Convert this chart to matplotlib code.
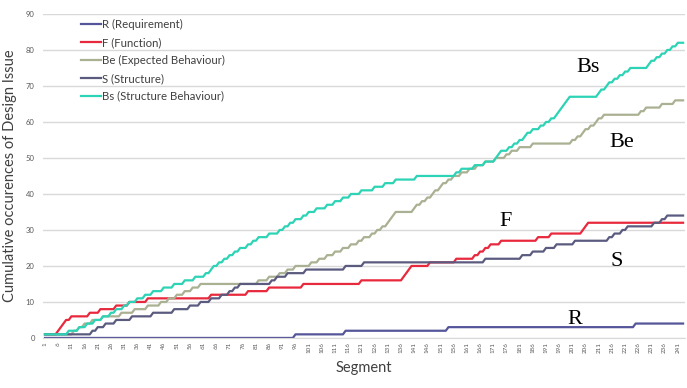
import numpy as np
import matplotlib.pyplot as plt

plt.rcParams['font.family'] = ['Lato', 'DejaVu Sans']

n_segments = 243

# Segment in which each design issue occurrence was coded (one entry per occurrence)
r_hits = [96, 115, 154, 225]
f_hits = [1, 6, 7, 8, 9, 11, 18, 22, 28, 33, 40, 64, 78, 86, 99, 121, 137, 138,
          139, 140, 147, 157, 164, 166, 168, 170, 174, 188, 193, 205, 206, 207]
be_hits = [1, 12, 14, 16, 19, 23, 30, 35, 40, 45, 48, 51, 54, 57, 60, 82, 86, 90,
           93, 96, 102, 105, 108, 111, 114, 117, 120, 122, 125, 127, 129, 131, 132,
           133, 134, 141, 142, 144, 146, 148, 149, 151, 152, 154, 156, 159, 162,
           165, 168, 172, 176, 178, 181, 186, 201, 203, 205, 206, 208, 210, 211,
           213, 227, 229, 235, 240]
s_hits = [1, 19, 21, 24, 28, 34, 42, 50, 56, 60, 64, 68, 71, 73, 75, 87, 89, 93,
          100, 115, 122, 168, 182, 186, 191, 195, 202, 215, 217, 220, 222, 232,
          235, 237]
bs_hits = [1, 10, 14, 17, 20, 23, 26, 28, 31, 33, 36, 39, 42, 46, 50, 54, 58, 62,
           64, 65, 67, 69, 71, 73, 75, 78, 80, 82, 86, 90, 92, 94, 96, 99, 101,
           104, 108, 111, 114, 117, 121, 126, 130, 134, 142, 157, 159, 164, 168,
           172, 173, 174, 177, 179, 181, 183, 184, 186, 189, 191, 193, 195, 196,
           197, 198, 199, 200, 211, 212, 214, 215, 217, 219, 221, 223, 230, 231,
           233, 235, 237, 239, 241]

series_names = ['R (Requirement)', 'F (Function)', 'Be (Expected Behaviour)',
                'S (Structure)', 'Bs (Structure Behaviour)']
series_hits = [r_hits, f_hits, be_hits, s_hits, bs_hits]
colors = ['#55559a', '#e8283c', '#a9b192', '#5b5b80', '#2cd3b5']

segments = np.arange(1, n_segments + 1)


def cumulative(hits):
    counts = np.bincount(hits, minlength=n_segments + 1)[1:]
    return np.cumsum(counts)


fig = plt.figure(figsize=(6.87, 3.88), dpi=100)
ax = fig.add_axes([0.0626, 0.129, 0.934, 0.835])

for name, hits, color in zip(series_names, series_hits, colors):
    ax.plot(segments, cumulative(hits), color=color, lw=1.6, label=name)

ax.set_xlim(0.24, 243.6)
ax.set_ylim(0, 90)
ax.set_yticks(range(0, 91, 10))
ax.set_xticks(segments[::5])
ax.set_xticklabels([str(s) for s in segments[::5]], rotation=90, fontsize=4.5,
                   color='#595959')
ax.tick_params(axis='y', labelsize=5.5, colors='#595959', length=0, pad=6)
ax.tick_params(axis='x', length=0, pad=3)
ax.grid(axis='y', color='#d9d9d9', lw=1)
ax.set_axisbelow(True)
for side in ['top', 'right', 'left']:
    ax.spines[side].set_visible(False)
ax.spines['bottom'].set_color('#d9d9d9')

ax.set_xlabel('Segment', fontsize=10.5, color='#404040', labelpad=6)
ax.set_ylabel('Cumulative occurences of Design Issue', fontsize=10.5,
              color='#404040', labelpad=6)

ax.legend(loc='upper left', bbox_to_anchor=(0.043, 1.015), frameon=False,
          fontsize=8.2, handlelength=1.8, handletextpad=0.1, labelspacing=0.6,
          labelcolor='#404040')

# series labels placed beside the curves
label_font = dict(family='Liberation Serif', fontsize=16, color='black')
ax.text(202.5, 74, 'Bs', **label_font)
ax.text(215, 53, 'Be', **label_font)
ax.text(173.5, 31, 'F', **label_font)
ax.text(215.5, 20, 'S', **label_font)
ax.text(199, 4, 'R', **label_font)

fig.savefig('out.png', dpi=100)
